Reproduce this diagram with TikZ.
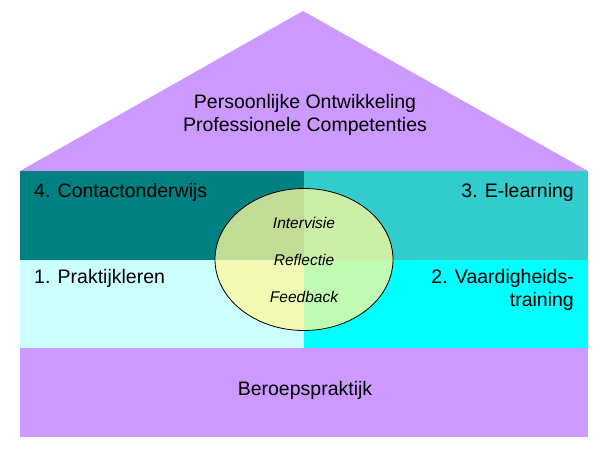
\documentclass[tikz,border=0pt]{standalone}
\usepackage{fontspec}
\setmainfont{Liberation Sans}
\usetikzlibrary{shapes.geometric}
\definecolor{lav}{HTML}{CC99FF}
\definecolor{tealq}{HTML}{008080}
\definecolor{tealmid}{HTML}{33CCCC}
\definecolor{cyanl}{HTML}{CCFFFF}
\definecolor{cyanq}{HTML}{00FFFF}
\definecolor{ellfill}{HTML}{FCF99C}
\begin{document}
\begin{tikzpicture}[x=1pt,y=-1pt,
  lbl/.style={inner sep=0pt,font=\fontsize{19.5}{23}\selectfont},
  elbl/.style={inner sep=0pt,font=\fontsize{15.5}{18}\selectfont\itshape}]
\useasboundingbox (0,0) rectangle (610,457);
% roof
\fill[lav] (20,171) -- (303,11) -- (588,171) -- cycle;
% quadrants
\fill[tealq] (20,171) rectangle (304,260);
\fill[tealmid] (304,171) rectangle (588,260);
\fill[cyanl] (20,260) rectangle (304,348);
\fill[cyanq] (304,260) rectangle (588,348);
% base
\fill[lav] (20,348) rectangle (588,437);
% ellipse
\node[draw=black,line width=0.8pt,fill=ellfill,fill opacity=0.77,ellipse,
  minimum width=178pt,minimum height=142pt,inner sep=0pt] (ell) at (304,259.5) {};
% texts
\node[lbl,align=center] (roof) at (305,115) {Persoonlijke Ontwikkeling\\Professionele Competenties};
\node[lbl,anchor=base west] (q4) at (34,197) {4. Contactonderwijs};
\node[lbl,anchor=base east] (q3) at (574,197) {3. E-learning};
\node[lbl,anchor=base west] (q1) at (34,283) {1. Praktijkleren};
\node[lbl,anchor=base east,align=right] (q2) at (574,283) {2. Vaardigheids-};
\node[lbl,anchor=base east] (q2b) at (574,306) {training};
\node[lbl] (base) at (305,390) {Beroepspraktijk};
\node[elbl] (t1) at (304,223) {Intervisie};
\node[elbl] (t2) at (304,260) {Reflectie};
\node[elbl] (t3) at (304,297) {Feedback};
\end{tikzpicture}
\end{document}
